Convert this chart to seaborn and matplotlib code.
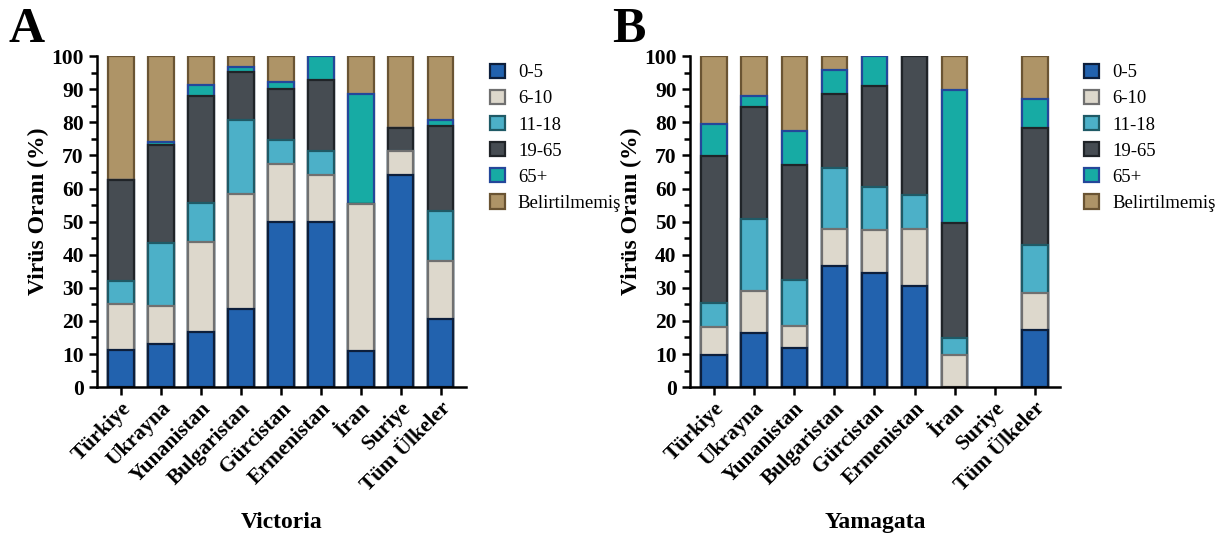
"""Stacked age-group bars of virus share by country (Victoria / Yamagata)."""

import matplotlib

matplotlib.use("Agg")
import matplotlib.pyplot as plt
import matplotlib.ticker as mticker
import pandas as pd
import seaborn as sns
from matplotlib.patches import Patch

countries = ["Türkiye", "Ukrayna", "Yunanistan", "Bulgaristan", "Gürcistan",
             "Ermenistan", "İran", "Suriye", "Tüm Ülkeler"]
groups = ["0-5", "6-10", "11-18", "19-65", "65+", "Belirtilmemiş"]

# Panel A - Victoria (segment sizes, %)
victoria_0_5 = [11.3, 13.1, 16.6, 23.5, 49.8, 49.8, 10.8, 64.1, 20.5]
victoria_6_10 = [13.8, 11.4, 27.1, 34.9, 17.5, 14.2, 44.5, 7.2, 17.6]
victoria_11_18 = [7.1, 19.1, 12.0, 22.2, 7.5, 7.2, 0.0, 0.0, 15.2]
victoria_19_65 = [30.3, 29.6, 32.2, 14.6, 15.2, 21.5, 0.0, 7.0, 25.5]
victoria_65p = [0.0, 0.8, 3.5, 1.5, 2.3, 7.3, 33.3, 0.0, 2.0]
victoria_unk = [37.5, 26.0, 8.6, 3.3, 7.7, 0.0, 11.4, 21.7, 19.2]

# Panel B - Yamagata
yamagata_0_5 = [9.7, 16.4, 11.7, 36.7, 34.5, 30.7, 0.0, 0.0, 17.3]
yamagata_6_10 = [8.6, 12.7, 6.9, 11.0, 12.9, 17.2, 9.7, 0.0, 11.0]
yamagata_11_18 = [7.0, 21.8, 13.9, 18.5, 13.0, 10.2, 5.0, 0.0, 14.7]
yamagata_19_65 = [44.4, 33.8, 34.5, 22.3, 30.6, 41.9, 35.0, 0.0, 35.4]
yamagata_65p = [9.9, 3.1, 10.3, 7.4, 9.0, 0.0, 40.0, 0.0, 8.6]
yamagata_unk = [20.4, 12.2, 22.7, 4.1, 0.0, 0.0, 10.3, 0.0, 13.0]

fill_colors = ["#2262ae", "#ddd8cc", "#4cb0c8", "#464c52", "#17aba4", "#ae9467"]
edge_colors = ["#0d1f3c", "#707070", "#1f5a66", "#202428", "#24479a", "#6a5433"]

SERIF = ["Liberation Serif", "DejaVu Serif"]


def build_frame(series):
    df = pd.DataFrame(dict(zip(groups, series)), index=countries)
    cum = df.cumsum(axis=1)
    long = cum.reset_index().melt(id_vars="index", var_name="group", value_name="top")
    return long.rename(columns={"index": "country"})


def draw_panel(ax, series, xlabel, letter, letter_x):
    data = build_frame(series)
    # draw the cumulative tops from the highest group down so lower ones overlay
    for grp, fc, ec in reversed(list(zip(groups, fill_colors, edge_colors))):
        sub = data[data["group"] == grp]
        sns.barplot(data=sub, x="country", y="top", order=countries, color=fc,
                    edgecolor=ec, linewidth=1.6, width=0.63, saturation=1,
                    errorbar=None, ax=ax)
    # empty bars (e.g. Suriye in Yamagata) should not leave an outline
    for p in ax.patches:
        if p.get_height() == 0:
            p.set_visible(False)
    ax.set_ylim(0, 100)
    ax.set_xlim(-0.6, 8.62)
    ax.yaxis.set_major_locator(mticker.MultipleLocator(10))
    ax.yaxis.set_minor_locator(mticker.MultipleLocator(5))
    ax.tick_params(axis="both", which="major", width=1.8, length=6, labelsize=15.5)
    ax.tick_params(axis="y", which="minor", width=1.8, length=4)
    ax.tick_params(axis="x", pad=2)
    for lab in ax.get_yticklabels() + ax.get_xticklabels():
        lab.set_fontweight("bold")
        lab.set_family(SERIF)
    plt.setp(ax.get_xticklabels(), rotation=45, ha="right", rotation_mode="anchor")
    sns.despine(ax=ax)
    for side in ("left", "bottom"):
        ax.spines[side].set_linewidth(1.8)
    ax.set_ylabel("Virüs Oranı (%)", fontsize=17, fontweight="bold", family=SERIF)
    ax.yaxis.set_label_coords(-0.13, 0.53)
    ax.set_xlabel(xlabel, fontsize=17, fontweight="bold", family=SERIF, labelpad=12)
    ax.text(letter_x, 1.01, letter, transform=ax.transAxes, fontsize=36,
            fontweight="bold", family=SERIF, va="bottom", ha="left")
    handles = [Patch(facecolor=fc, edgecolor=ec, linewidth=1.6)
               for fc, ec in zip(fill_colors, edge_colors)]
    ax.legend(handles, groups, loc="upper left", bbox_to_anchor=(1.045, 1.0),
              frameon=False, prop={"family": SERIF, "size": 13.5},
              handlelength=0.8, handleheight=0.8, handletextpad=0.7,
              labelspacing=0.45, borderaxespad=0)


sns.set_style("ticks", rc={"text.color": "black", "axes.labelcolor": "black",
                           "axes.edgecolor": "black", "xtick.color": "black",
                           "ytick.color": "black"})
fig = plt.figure(figsize=(12.21, 5.34), dpi=100)
ax_a = fig.add_axes([0.0794, 0.275, 0.302, 0.62])
ax_b = fig.add_axes([0.565, 0.275, 0.303, 0.62])

draw_panel(ax_a, [victoria_0_5, victoria_6_10, victoria_11_18, victoria_19_65,
                  victoria_65p, victoria_unk], "Victoria", "A", -0.24)
draw_panel(ax_b, [yamagata_0_5, yamagata_6_10, yamagata_11_18, yamagata_19_65,
                  yamagata_65p, yamagata_unk], "Yamagata", "B", -0.21)

fig.savefig("out.png", dpi=100)
